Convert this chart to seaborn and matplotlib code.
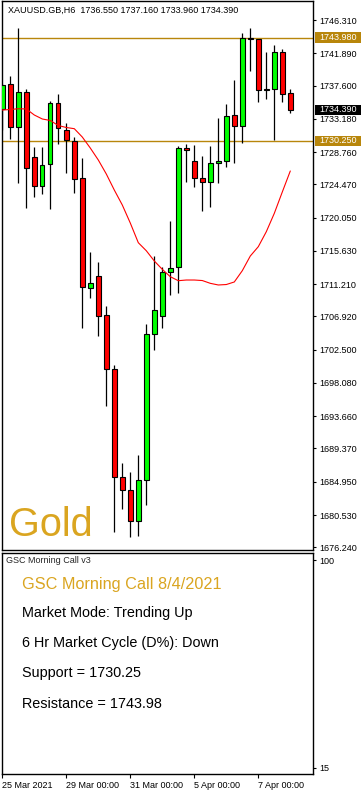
"""
XAUUSD H6 candles with MA, support / resistance lines and the GSC Morning Call panel.
"""
import numpy as np
import pandas as pd
import matplotlib
matplotlib.use("Agg")
import matplotlib.pyplot as plt
import matplotlib.transforms as mtransforms
from matplotlib.patches import Rectangle
import seaborn as sns

# H6 bars, 25 Mar 2021 -> 8 Apr 2021
opens = [1734.45, 1737.77, 1732.05, 1736.70, 1728.11, 1724.21, 1727.14, 1735.24, 1731.65, 1730.27,
         1725.28, 1710.66, 1712.25, 1707.07, 1699.89, 1685.54, 1683.81, 1679.69, 1685.14, 1704.55,
         1707.02, 1712.78, 1713.45, 1729.26, 1727.53, 1725.28, 1724.82, 1727.27, 1727.53, 1733.65,
         1732.27, 1743.88, 1743.79, 1736.97, 1737.10, 1742.02, 1736.55]
highs = [1737.81, 1738.87, 1745.21, 1737.10, 1729.48, 1729.48, 1735.55, 1736.44, 1732.66, 1730.80,
         1727.97, 1715.48, 1714.15, 1708.31, 1700.47, 1687.40, 1686.21, 1688.47, 1705.91, 1714.91,
         1713.45, 1719.56, 1729.57, 1729.83, 1729.70, 1728.28, 1729.61, 1733.33, 1735.11, 1738.34,
         1744.62, 1745.21, 1743.85, 1742.10, 1742.99, 1742.46, 1737.16]
lows = [1731.69, 1730.46, 1724.61, 1721.37, 1722.83, 1723.23, 1721.20, 1729.83, 1725.98, 1723.36,
        1705.42, 1709.41, 1704.36, 1695.06, 1678.31, 1681.29, 1677.57, 1677.78, 1681.90, 1702.50,
        1705.42, 1709.81, 1710.07, 1724.82, 1724.16, 1720.97, 1721.50, 1724.69, 1726.82, 1727.27,
        1730.01, 1739.57, 1735.46, 1735.81, 1730.37, 1735.46, 1733.96]
closes = [1737.67, 1732.05, 1736.70, 1726.60, 1724.25, 1727.04, 1735.24, 1731.92, 1730.37, 1725.22,
          1710.79, 1711.32, 1707.02, 1699.89, 1685.54, 1683.81, 1679.69, 1685.14, 1704.55, 1707.73,
          1712.78, 1713.32, 1729.26, 1729.00, 1725.28, 1724.82, 1727.27, 1727.53, 1733.52, 1732.27,
          1743.88, 1743.75, 1736.97, 1737.10, 1742.02, 1736.44, 1734.39]
ma_values = [1734.35, 1734.42, 1734.52, 1734.49, 1733.69, 1733.16, 1732.96, 1732.29, 1732.03, 1731.87,
             1730.76, 1729.30, 1727.71, 1725.85, 1723.72, 1721.73, 1719.33, 1716.72, 1715.65, 1714.29,
             1713.18, 1712.20, 1711.67, 1711.76, 1711.76, 1711.69, 1711.32, 1711.10, 1711.16, 1711.50,
             1713.00, 1714.95, 1716.19, 1718.18, 1720.62, 1723.46, 1726.25]

price_ticks = [1746.310, 1741.890, 1737.600, 1733.180, 1728.760, 1724.470, 1720.050, 1715.630,
               1711.210, 1706.920, 1702.500, 1698.080, 1693.660, 1689.370, 1684.950, 1680.530,
               1676.240]
date_bars = [0, 8, 16, 24, 32]
date_labels = ["25 Mar 2021", "29 Mar 00:00", "31 Mar 00:00", "5 Apr 00:00", "7 Apr 00:00"]

support = 1730.25
resistance = 1743.98
indicator_ticks = [15, 100]

info_title = "GSC Morning Call 8/4/2021"
info_lines = ["Market Mode: Trending Up",
              "6 Hr Market Cycle (D%): Down",
              "Support = 1730.25",
              "Resistance = 1743.98"]

GOLD_DARK = "#B8860B"
GOLD = "#DAA520"

sns.set_style("white")
plt.rcParams['font.family'] = ['Liberation Sans', 'DejaVu Sans']

df = pd.DataFrame({"open": opens, "high": highs, "low": lows, "close": closes, "ma": ma_values})
df["bar"] = np.arange(len(df))
df["bottom"] = df[["open", "close"]].min(axis=1)
df["height"] = (df["close"] - df["open"]).abs().clip(lower=0.03)
df["color"] = np.where(df["close"] >= df["open"], "#00FF00", "#FF0000")

W, H = 363, 792
fig = plt.figure(figsize=(W / 100, H / 100), dpi=100)
fig.patch.set_facecolor("white")

def px_box(x0, y0, x1, y1):
    return [x0 / W, 1 - y1 / H, (x1 - x0) / W, (y1 - y0) / H]

ax = fig.add_axes(px_box(1.7, 1, 313.3, 550))
sub = fig.add_axes(px_box(1.7, 552.7, 313.3, 774.3), sharex=ax)

# candles
ax.vlines(df["bar"], df["low"], df["high"], color="black", lw=0.9, zorder=2)
ax.bar(df["bar"], df["height"], bottom=df["bottom"], width=0.55, color=df["color"],
       edgecolor="black", linewidth=0.8, zorder=3)
sns.lineplot(data=df, x="bar", y="ma", ax=ax, color="red", lw=0.8, zorder=4, legend=False)

ax.axhline(resistance, color=GOLD_DARK, lw=1, zorder=1)
ax.axhline(support, color=GOLD_DARK, lw=1, zorder=1)

ax.set_xlim(-0.075, 38.875)
ax.set_ylim(1675.88, 1748.84)
ax.set_xlabel("")
ax.set_ylabel("")
ax.yaxis.tick_right()
ax.set_yticks(price_ticks)
ax.set_yticklabels([f"{t:.3f}" for t in price_ticks])
ax.tick_params(axis="y", direction="out", length=2.5, width=0.8, labelsize=6.5, pad=2,
               colors="black", right=True, left=False)
ax.tick_params(axis="x", bottom=False, labelbottom=False)

# price markers on the right scale
blend = mtransforms.blended_transform_factory(ax.transAxes, ax.transData)
for val, bg in [(resistance, GOLD_DARK), (support, GOLD_DARK), (closes[-1], "black")]:
    ax.add_patch(Rectangle((1.0045, val - 0.68), 0.148, 1.36, transform=blend, facecolor=bg,
                           edgecolor="none", clip_on=False, zorder=5))
    ax.text(1.0045 + 0.074, val, f"{val:.3f}", transform=blend, ha="center", va="center",
            color="white", fontsize=6.5, clip_on=False, zorder=6)

ax.text(6 / 311.6, 1 - 11.7 / 549,
        "XAUUSD.GB,H6  %.3f %.3f %.3f %.3f" % (opens[-1], highs[-1], lows[-1], closes[-1]),
        transform=ax.transAxes, fontsize=6.5, ha="left", va="baseline", color="black")
ax.text(7.5 / 311.6, 1 - 534.5 / 549, "Gold", transform=ax.transAxes, fontsize=28.5,
        ha="left", va="baseline", color=GOLD)

# indicator sub-window
sub.set_ylim(12.3, 103)
sub.yaxis.tick_right()
sub.set_yticks(indicator_ticks)
sub.set_yticklabels([str(t) for t in indicator_ticks])
sub.tick_params(axis="y", direction="out", length=2.5, width=0.8, labelsize=6.5, pad=2,
                colors="black", right=True, left=False)
sub.set_xticks(date_bars)
sub.set_xticklabels(date_labels, ha="left")
sub.tick_params(axis="x", direction="out", length=3, width=0.8, labelsize=6.5, pad=1.5,
                colors="black", bottom=True)

for a in (ax, sub):
    for sp in a.spines.values():
        sp.set_visible(True)
        sp.set_color("black")
        sp.set_linewidth(1)
    a.set_facecolor("white")

fig.text(6 / W, 1 - 563.3 / H, "GSC Morning Call v3", fontsize=6.5, ha="left", va="baseline")
fig.text(22 / W, 1 - 588.7 / H, info_title, fontsize=11.7, ha="left", va="baseline", color=GOLD)
for i, line in enumerate(info_lines):
    fig.text(22 / W, 1 - (617.5 + 30 * i) / H, line, fontsize=10.4, ha="left", va="baseline",
             color="black")

fig.savefig("out.png", dpi=100, facecolor="white")
plt.close(fig)
